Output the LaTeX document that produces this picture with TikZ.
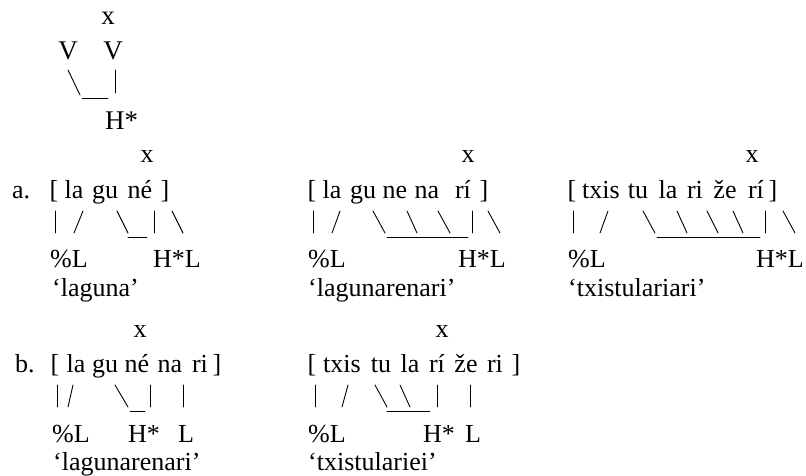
\documentclass[tikz,border=0pt]{standalone}
\usepackage{fontspec}
\setmainfont{Liberation Serif}
\begin{document}
\begin{tikzpicture}[x=1pt,y=-1pt,
  t/.style={font=\fontsize{26}{30}\selectfont, inner sep=0pt, anchor=base},
  tw/.style={t, anchor=base west},
  tt/.style={t, font=\fontsize{27}{30}\selectfont},
  ln/.style={line width=0.9pt, line cap=round}]
\useasboundingbox (0,0) rectangle (806,476);
% top schema
\node[tt] (tx) at (108,25) {x};
\node[tt] (tv1) at (68,60) {V};
\node[tt] (tv2) at (113,60) {V};
\node[tt, anchor=base west] (th) at (105,130) {H*};
\draw[ln] (68,70) -- (80,95);
\draw[ln] (82,98) -- (108,98);
\draw[ln] (115,70) -- (115,93);
% row a1
\node[tw] (la) at (12,198) {a.};
\node[t] (a1x) at (147,163) {x};
\node[t] (a1b1) at (54,198) {[};
\node[t] (a1s1) at (74,198) {la};
\node[t] (a1s2) at (105,198) {gu};
\node[t] (a1s3) at (140,198) {né};
\node[t] (a1b2) at (165,198) {]};
\draw[ln] (55,211) -- (55,233);
\draw[ln] (83,211) -- (74,233);
\draw[ln] (117,211) -- (128,233);
\draw[ln] (128,237) -- (147,237);
\draw[ln] (154,211) -- (154,233);
\draw[ln] (172,211) -- (183,233);
\node[tw] (a1l1) at (50,267) {\%L};
\node[tw] (a1l2) at (153,267) {H*L};
\node[tw] (a1g) at (52,296) {‘laguna’};
% row a2
\node[t] (a2x) at (468,163) {x};
\node[t] (a2b1) at (312,198) {[};
\node[t] (a2s1) at (332,198) {la};
\node[t] (a2s2) at (363,198) {gu};
\node[t] (a2s3) at (395,198) {ne};
\node[t] (a2s4) at (427,198) {na};
\node[t] (a2s5) at (463,198) {rí};
\node[t] (a2b2) at (484,198) {]};
\draw[ln] (313,211) -- (313,233);
\draw[ln] (340,211) -- (332,233);
\draw[ln] (373,211) -- (385,233);
\draw[ln] (407,211) -- (417,233);
\draw[ln] (438,211) -- (450,233);
\draw[ln] (387,237) -- (468,237);
\draw[ln] (472,211) -- (472,233);
\draw[ln] (488,211) -- (500,233);
\node[tw] (a2l1) at (308,267) {\%L};
\node[tw] (a2l2) at (458,267) {H*L};
\node[tw] (a2g) at (308,296) {‘lagunarenari’};
% row a3
\node[t] (a3x) at (752,163) {x};
\node[t] (a3b1) at (572,198) {[};
\node[t] (a3s1) at (601,198) {txis};
\node[t] (a3s2) at (638,198) {tu};
\node[t] (a3s3) at (668,198) {la};
\node[t] (a3s4) at (695,198) {ri};
\node[t] (a3s5) at (725,198) {že};
\node[t] (a3s6) at (756,198) {rí};
\node[t] (a3b2) at (773,198) {]};
\draw[ln] (573,211) -- (573,233);
\draw[ln] (608,211) -- (600,233);
\draw[ln] (643,211) -- (655,233);
\draw[ln] (677,211) -- (687,233);
\draw[ln] (707,211) -- (718,233);
\draw[ln] (733,211) -- (743,233);
\draw[ln] (657,237) -- (760,237);
\draw[ln] (765,211) -- (765,233);
\draw[ln] (783,211) -- (795,233);
\node[tw] (a3l1) at (568,267) {\%L};
\node[tw] (a3l2) at (756,267) {H*L};
\node[tw] (a3g) at (568,296) {‘txistulariari’};
% row b1
\node[tw] (lb) at (15,372) {b.};
\node[t] (b1x) at (140,337) {x};
\node[t] (b1b1) at (55,372) {[};
\node[t] (b1s1) at (76,372) {la};
\node[t] (b1s2) at (105,372) {gu};
\node[t] (b1s3) at (137,372) {né};
\node[t] (b1s4) at (170,372) {na};
\node[t] (b1s5) at (200,372) {ri};
\node[t] (b1b2) at (217,372) {]};
\draw[ln] (57,385) -- (57,407);
\draw[ln] (73,385) -- (68,407);
\draw[ln] (115,385) -- (128,407);
\draw[ln] (130,411) -- (145,411);
\draw[ln] (150,385) -- (150,407);
\draw[ln] (183,385) -- (183,407);
\node[tw] (b1l1) at (52,442) {\%L};
\node[tw] (b1l2) at (128,442) {H*};
\node[tw] (b1l3) at (178,442) {L};
\node[tw] (b1g) at (53,470) {‘lagunarenari’};
% row b2
\node[t] (b2x) at (442,337) {x};
\node[t] (b2b1) at (312,372) {[};
\node[t] (b2s1) at (342,372) {txis};
\node[t] (b2s2) at (381,372) {tu};
\node[t] (b2s3) at (410,372) {la};
\node[t] (b2s4) at (437,372) {rí};
\node[t] (b2s5) at (466,372) {že};
\node[t] (b2s6) at (495,372) {ri};
\node[t] (b2b2) at (516,372) {]};
\draw[ln] (315,385) -- (315,407);
\draw[ln] (348,385) -- (342,407);
\draw[ln] (375,385) -- (387,407);
\draw[ln] (400,385) -- (410,407);
\draw[ln] (387,411) -- (430,411);
\draw[ln] (437,385) -- (437,407);
\draw[ln] (470,385) -- (470,407);
\node[tw] (b2l1) at (308,442) {\%L};
\node[tw] (b2l2) at (423,442) {H*};
\node[tw] (b2l3) at (465,442) {L};
\node[tw] (b2g) at (308,470) {‘txistulariei’};
\end{tikzpicture}
\end{document}
